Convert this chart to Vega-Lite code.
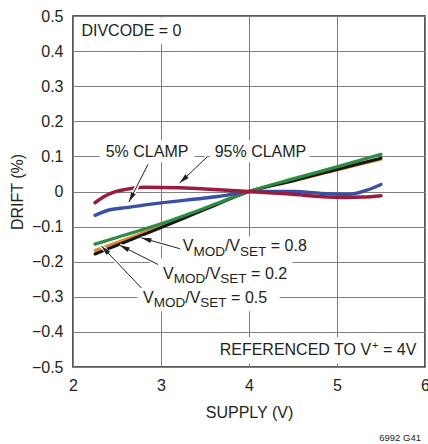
{
  "$schema": "https://vega.github.io/schema/vega-lite/v6.json",
  "width": 352,
  "height": 351,
  "autosize": {"type": "none"},
  "padding": {"left": 73, "top": 16, "right": 3, "bottom": 77},
  "background": "white",
  "config": {
    "font": "Liberation Sans",
    "view": {"stroke": "#231f20", "strokeWidth": 1.5},
    "axis": {
      "labelFont": "Liberation Sans", "titleFont": "Liberation Sans",
      "labelFontSize": 16, "titleFontSize": 16,
      "labelColor": "#231f20", "titleColor": "#231f20",
      "titleFontWeight": "normal",
      "gridColor": "#808080", "gridWidth": 1, "gridOpacity": 1,
      "domain": false, "ticks": false, "tickSize": 0,
      "labelFlush": false, "labelOverlap": false
    }
  },
  "title": {
    "text": "6992 G41", "orient": "bottom", "anchor": "end", "frame": "group",
    "fontSize": 9.5, "font": "Liberation Sans", "fontWeight": "normal",
    "color": "#231f20", "offset": 13, "dx": -4
  },
  "datasets": {
    "curves": [
      {"s": "VMOD/VSET = 0.2", "x": 2.25, "y": -0.168},
      {"s": "VMOD/VSET = 0.2", "x": 2.5, "y": -0.145},
      {"s": "VMOD/VSET = 0.2", "x": 3.0, "y": -0.099},
      {"s": "VMOD/VSET = 0.2", "x": 3.5, "y": -0.049},
      {"s": "VMOD/VSET = 0.2", "x": 4.0, "y": 0.0},
      {"s": "VMOD/VSET = 0.2", "x": 4.5, "y": 0.030},
      {"s": "VMOD/VSET = 0.2", "x": 5.0, "y": 0.061},
      {"s": "VMOD/VSET = 0.2", "x": 5.5, "y": 0.092},
      {"s": "VMOD/VSET = 0.8", "x": 2.25, "y": -0.178},
      {"s": "VMOD/VSET = 0.8", "x": 2.5, "y": -0.153},
      {"s": "VMOD/VSET = 0.8", "x": 3.0, "y": -0.103},
      {"s": "VMOD/VSET = 0.8", "x": 3.5, "y": -0.051},
      {"s": "VMOD/VSET = 0.8", "x": 4.0, "y": 0.0},
      {"s": "VMOD/VSET = 0.8", "x": 4.5, "y": 0.031},
      {"s": "VMOD/VSET = 0.8", "x": 5.0, "y": 0.063},
      {"s": "VMOD/VSET = 0.8", "x": 5.5, "y": 0.095},
      {"s": "VMOD/VSET = 0.5", "x": 2.25, "y": -0.150},
      {"s": "VMOD/VSET = 0.5", "x": 2.5, "y": -0.131},
      {"s": "VMOD/VSET = 0.5", "x": 3.0, "y": -0.092},
      {"s": "VMOD/VSET = 0.5", "x": 3.5, "y": -0.047},
      {"s": "VMOD/VSET = 0.5", "x": 4.0, "y": 0.0},
      {"s": "VMOD/VSET = 0.5", "x": 4.5, "y": 0.036},
      {"s": "VMOD/VSET = 0.5", "x": 5.0, "y": 0.070},
      {"s": "VMOD/VSET = 0.5", "x": 5.5, "y": 0.106},
      {"s": "5% CLAMP", "x": 2.25, "y": -0.068},
      {"s": "5% CLAMP", "x": 2.42, "y": -0.052},
      {"s": "5% CLAMP", "x": 2.6, "y": -0.046},
      {"s": "5% CLAMP", "x": 2.98, "y": -0.033},
      {"s": "5% CLAMP", "x": 3.55, "y": -0.017},
      {"s": "5% CLAMP", "x": 3.74, "y": -0.011},
      {"s": "5% CLAMP", "x": 4.0, "y": 0.0},
      {"s": "5% CLAMP", "x": 4.5, "y": 0.0},
      {"s": "5% CLAMP", "x": 4.88, "y": -0.006},
      {"s": "5% CLAMP", "x": 5.14, "y": -0.008},
      {"s": "5% CLAMP", "x": 5.33, "y": 0.003},
      {"s": "5% CLAMP", "x": 5.5, "y": 0.020},
      {"s": "95% CLAMP", "x": 2.25, "y": -0.032},
      {"s": "95% CLAMP", "x": 2.35, "y": -0.015},
      {"s": "95% CLAMP", "x": 2.45, "y": -0.003},
      {"s": "95% CLAMP", "x": 2.6, "y": 0.006},
      {"s": "95% CLAMP", "x": 2.8, "y": 0.012},
      {"s": "95% CLAMP", "x": 3.2, "y": 0.011},
      {"s": "95% CLAMP", "x": 3.5, "y": 0.007},
      {"s": "95% CLAMP", "x": 3.8, "y": 0.003},
      {"s": "95% CLAMP", "x": 4.0, "y": 0.0},
      {"s": "95% CLAMP", "x": 4.5, "y": -0.008},
      {"s": "95% CLAMP", "x": 4.8, "y": -0.014},
      {"s": "95% CLAMP", "x": 5.1, "y": -0.017},
      {"s": "95% CLAMP", "x": 5.3, "y": -0.016},
      {"s": "95% CLAMP", "x": 5.5, "y": -0.012}
    ],
    "boxes": [
      {"x": 2.02, "xe": 3.27, "y": 0.495, "ye": 0.42},
      {"x": 2.303, "xe": 3.38, "y": 0.146, "ye": 0.083},
      {"x": 3.56, "xe": 4.69, "y": 0.146, "ye": 0.083},
      {"x": 3.19, "xe": 4.71, "y": -0.128, "ye": -0.19},
      {"x": 2.9625, "xe": 4.494, "y": -0.19, "ye": -0.273},
      {"x": 2.735, "xe": 4.349, "y": -0.273, "ye": -0.341},
      {"x": 3.712, "xe": 5.98, "y": -0.415, "ye": -0.49}
    ],
    "arrows": [
      {"x": 2.852, "y": 0.0775, "xt": 2.636, "yt": -0.030},
      {"x": 3.523, "y": 0.0983, "xt": 3.2125, "yt": 0.024},
      {"x": 3.215, "y": -0.163, "xt": 2.777, "yt": -0.132},
      {"x": 2.966, "y": -0.208, "xt": 2.531, "yt": -0.153},
      {"x": 2.777, "y": -0.275, "xt": 2.323, "yt": -0.155}
    ],
    "labels": [
      {"t": "DIVCODE = 0", "x": 2.0955, "y": 0.4422, "k": "main", "a": "l"},
      {"t": "5% CLAMP", "x": 2.3716, "y": 0.0983, "k": "main", "a": "l"},
      {"t": "95% CLAMP", "x": 3.6102, "y": 0.0983, "k": "main", "a": "l"},
      {"t": "V", "x": 3.2466, "y": -0.1704, "k": "main", "a": "l"},
      {"t": "MOD", "x": 3.3682, "y": -0.1829, "k": "sub", "a": "l"},
      {"t": "/V", "x": 3.7261, "y": -0.1704, "k": "main", "a": "l"},
      {"t": "SET", "x": 3.8977, "y": -0.1829, "k": "sub", "a": "l"},
      {"t": "= 0.8", "x": 4.2477, "y": -0.1704, "k": "main", "a": "l"},
      {"t": "V", "x": 3.0227, "y": -0.2481, "k": "main", "a": "l"},
      {"t": "MOD", "x": 3.1443, "y": -0.2607, "k": "sub", "a": "l"},
      {"t": "/V", "x": 3.5023, "y": -0.2481, "k": "main", "a": "l"},
      {"t": "SET", "x": 3.6739, "y": -0.2607, "k": "sub", "a": "l"},
      {"t": "= 0.2", "x": 4.0239, "y": -0.2481, "k": "main", "a": "l"},
      {"t": "V", "x": 2.7955, "y": -0.3165, "k": "main", "a": "l"},
      {"t": "MOD", "x": 2.9170, "y": -0.3291, "k": "sub", "a": "l"},
      {"t": "/V", "x": 3.2750, "y": -0.3165, "k": "main", "a": "l"},
      {"t": "SET", "x": 3.4466, "y": -0.3291, "k": "sub", "a": "l"},
      {"t": "= 0.5", "x": 3.7966, "y": -0.3165, "k": "main", "a": "l"},
      {"t": "REFERENCED TO V", "x": 5.3875, "y": -0.4667, "k": "main", "a": "r"},
      {"t": "+", "x": 5.3989, "y": -0.4496, "k": "sup", "a": "l"},
      {"t": "= 4V", "x": 5.9023, "y": -0.4667, "k": "main", "a": "r"}
    ]
  },
  "layer": [
    {
      "data": {"name": "boxes"},
      "mark": {"type": "rect", "fill": "white", "stroke": null},
      "encoding": {
        "x": {"field": "x", "type": "quantitative", "scale": {"domain": [2, 6], "nice": false, "zero": false},
          "axis": {"title": "SUPPLY (V)", "values": [2, 3, 4, 5, 6], "format": "~g", "grid": true, "labelPadding": 10, "titlePadding": 11}},
        "x2": {"field": "xe"},
        "y": {"field": "y", "type": "quantitative", "scale": {"domain": [-0.5, 0.5], "nice": false, "zero": false},
          "axis": {"title": "DRIFT (%)", "values": [-0.5, -0.4, -0.3, -0.2, -0.1, 0, 0.1, 0.2, 0.3, 0.4, 0.5], "format": "~g", "grid": true, "labelPadding": 10, "titlePadding": 6}},
        "y2": {"field": "ye"}
      }
    },
    {
      "data": {"name": "curves"},
      "mark": {"type": "line", "interpolate": "monotone", "strokeCap": "round"},
      "encoding": {
        "x": {"field": "x", "type": "quantitative", "scale": {"domain": [2, 6], "nice": false, "zero": false},
          "axis": {"title": "SUPPLY (V)", "values": [2, 3, 4, 5, 6], "format": "~g", "grid": true, "labelPadding": 10, "titlePadding": 11}},
        "y": {"field": "y", "type": "quantitative", "scale": {"domain": [-0.5, 0.5], "nice": false, "zero": false},
          "axis": {"title": "DRIFT (%)", "values": [-0.5, -0.4, -0.3, -0.2, -0.1, 0, 0.1, 0.2, 0.3, 0.4, 0.5], "format": "~g", "grid": true, "labelPadding": 10, "titlePadding": 6}},
        "color": {"field": "s", "type": "nominal", "legend": null,
          "scale": {"domain": ["VMOD/VSET = 0.2", "VMOD/VSET = 0.8", "VMOD/VSET = 0.5", "5% CLAMP", "95% CLAMP"],
                    "range": ["#e08a30", "#161616", "#2e8b45", "#3a4fa6", "#9b1b3c"]}},
        "strokeWidth": {"field": "s", "type": "nominal", "legend": null,
          "scale": {"domain": ["VMOD/VSET = 0.2", "VMOD/VSET = 0.8", "VMOD/VSET = 0.5", "5% CLAMP", "95% CLAMP"],
                    "range": [3, 3.5, 3.5, 3, 3]}}
      }
    },
    {
      "data": {"name": "arrows"},
      "mark": {"type": "rule", "color": "white", "strokeWidth": 4},
      "encoding": {
        "x": {"field": "x", "type": "quantitative", "scale": {"domain": [2, 6], "nice": false, "zero": false},
          "axis": {"title": "SUPPLY (V)", "values": [2, 3, 4, 5, 6], "format": "~g", "grid": true, "labelPadding": 10, "titlePadding": 11}},
        "y": {"field": "y", "type": "quantitative", "scale": {"domain": [-0.5, 0.5], "nice": false, "zero": false},
          "axis": {"title": "DRIFT (%)", "values": [-0.5, -0.4, -0.3, -0.2, -0.1, 0, 0.1, 0.2, 0.3, 0.4, 0.5], "format": "~g", "grid": true, "labelPadding": 10, "titlePadding": 6}},
        "x2": {"field": "xt"},
        "y2": {"field": "yt"}
      }
    },
    {
      "data": {"name": "arrows"},
      "mark": {"type": "rule", "color": "#231f20", "strokeWidth": 1},
      "encoding": {
        "x": {"field": "x", "type": "quantitative", "scale": {"domain": [2, 6], "nice": false, "zero": false},
          "axis": {"title": "SUPPLY (V)", "values": [2, 3, 4, 5, 6], "format": "~g", "grid": true, "labelPadding": 10, "titlePadding": 11}},
        "y": {"field": "y", "type": "quantitative", "scale": {"domain": [-0.5, 0.5], "nice": false, "zero": false},
          "axis": {"title": "DRIFT (%)", "values": [-0.5, -0.4, -0.3, -0.2, -0.1, 0, 0.1, 0.2, 0.3, 0.4, 0.5], "format": "~g", "grid": true, "labelPadding": 10, "titlePadding": 6}},
        "x2": {"field": "xt"},
        "y2": {"field": "yt"}
      }
    },
    {
      "data": {"name": "arrows"},
      "transform": [{"calculate": "atan2(-(datum.yt - datum.y) * 351, (datum.xt - datum.x) * 88) * 180 / PI", "as": "ang"}],
      "mark": {"type": "point", "shape": "M0,0L-2.4,-0.6L-2.4,0.6Z", "filled": true, "color": "#231f20", "opacity": 1, "size": 70, "strokeWidth": 0},
      "encoding": {
        "x": {"field": "xt", "type": "quantitative", "scale": {"domain": [2, 6], "nice": false, "zero": false},
          "axis": {"title": "SUPPLY (V)", "values": [2, 3, 4, 5, 6], "format": "~g", "grid": true, "labelPadding": 10, "titlePadding": 11}},
        "y": {"field": "yt", "type": "quantitative", "scale": {"domain": [-0.5, 0.5], "nice": false, "zero": false},
          "axis": {"title": "DRIFT (%)", "values": [-0.5, -0.4, -0.3, -0.2, -0.1, 0, 0.1, 0.2, 0.3, 0.4, 0.5], "format": "~g", "grid": true, "labelPadding": 10, "titlePadding": 6}},
        "angle": {"field": "ang", "type": "quantitative", "scale": null}
      }
    },
    {
      "data": {"name": "labels"},
      "transform": [{"filter": "datum.k === 'main' && datum.a === 'l'"}],
      "mark": {"type": "text", "align": "left", "baseline": "alphabetic", "fontSize": 16, "font": "Liberation Sans", "color": "#231f20"},
      "encoding": {
        "x": {"field": "x", "type": "quantitative", "scale": {"domain": [2, 6], "nice": false, "zero": false},
          "axis": {"title": "SUPPLY (V)", "values": [2, 3, 4, 5, 6], "format": "~g", "grid": true, "labelPadding": 10, "titlePadding": 11}},
        "y": {"field": "y", "type": "quantitative", "scale": {"domain": [-0.5, 0.5], "nice": false, "zero": false},
          "axis": {"title": "DRIFT (%)", "values": [-0.5, -0.4, -0.3, -0.2, -0.1, 0, 0.1, 0.2, 0.3, 0.4, 0.5], "format": "~g", "grid": true, "labelPadding": 10, "titlePadding": 6}},
        "text": {"field": "t"}
      }
    },
    {
      "data": {"name": "labels"},
      "transform": [{"filter": "datum.k === 'main' && datum.a === 'r'"}],
      "mark": {"type": "text", "align": "right", "baseline": "alphabetic", "fontSize": 16, "font": "Liberation Sans", "color": "#231f20"},
      "encoding": {
        "x": {"field": "x", "type": "quantitative", "scale": {"domain": [2, 6], "nice": false, "zero": false},
          "axis": {"title": "SUPPLY (V)", "values": [2, 3, 4, 5, 6], "format": "~g", "grid": true, "labelPadding": 10, "titlePadding": 11}},
        "y": {"field": "y", "type": "quantitative", "scale": {"domain": [-0.5, 0.5], "nice": false, "zero": false},
          "axis": {"title": "DRIFT (%)", "values": [-0.5, -0.4, -0.3, -0.2, -0.1, 0, 0.1, 0.2, 0.3, 0.4, 0.5], "format": "~g", "grid": true, "labelPadding": 10, "titlePadding": 6}},
        "text": {"field": "t"}
      }
    },
    {
      "data": {"name": "labels"},
      "transform": [{"filter": "datum.k === 'sub'"}],
      "mark": {"type": "text", "align": "left", "baseline": "alphabetic", "fontSize": 13.5, "font": "Liberation Sans", "color": "#231f20"},
      "encoding": {
        "x": {"field": "x", "type": "quantitative", "scale": {"domain": [2, 6], "nice": false, "zero": false},
          "axis": {"title": "SUPPLY (V)", "values": [2, 3, 4, 5, 6], "format": "~g", "grid": true, "labelPadding": 10, "titlePadding": 11}},
        "y": {"field": "y", "type": "quantitative", "scale": {"domain": [-0.5, 0.5], "nice": false, "zero": false},
          "axis": {"title": "DRIFT (%)", "values": [-0.5, -0.4, -0.3, -0.2, -0.1, 0, 0.1, 0.2, 0.3, 0.4, 0.5], "format": "~g", "grid": true, "labelPadding": 10, "titlePadding": 6}},
        "text": {"field": "t"}
      }
    },
    {
      "data": {"name": "labels"},
      "transform": [{"filter": "datum.k === 'sup'"}],
      "mark": {"type": "text", "align": "left", "baseline": "alphabetic", "fontSize": 11, "font": "Liberation Sans", "color": "#231f20"},
      "encoding": {
        "x": {"field": "x", "type": "quantitative", "scale": {"domain": [2, 6], "nice": false, "zero": false},
          "axis": {"title": "SUPPLY (V)", "values": [2, 3, 4, 5, 6], "format": "~g", "grid": true, "labelPadding": 10, "titlePadding": 11}},
        "y": {"field": "y", "type": "quantitative", "scale": {"domain": [-0.5, 0.5], "nice": false, "zero": false},
          "axis": {"title": "DRIFT (%)", "values": [-0.5, -0.4, -0.3, -0.2, -0.1, 0, 0.1, 0.2, 0.3, 0.4, 0.5], "format": "~g", "grid": true, "labelPadding": 10, "titlePadding": 6}},
        "text": {"field": "t"}
      }
    }
  ]
}
